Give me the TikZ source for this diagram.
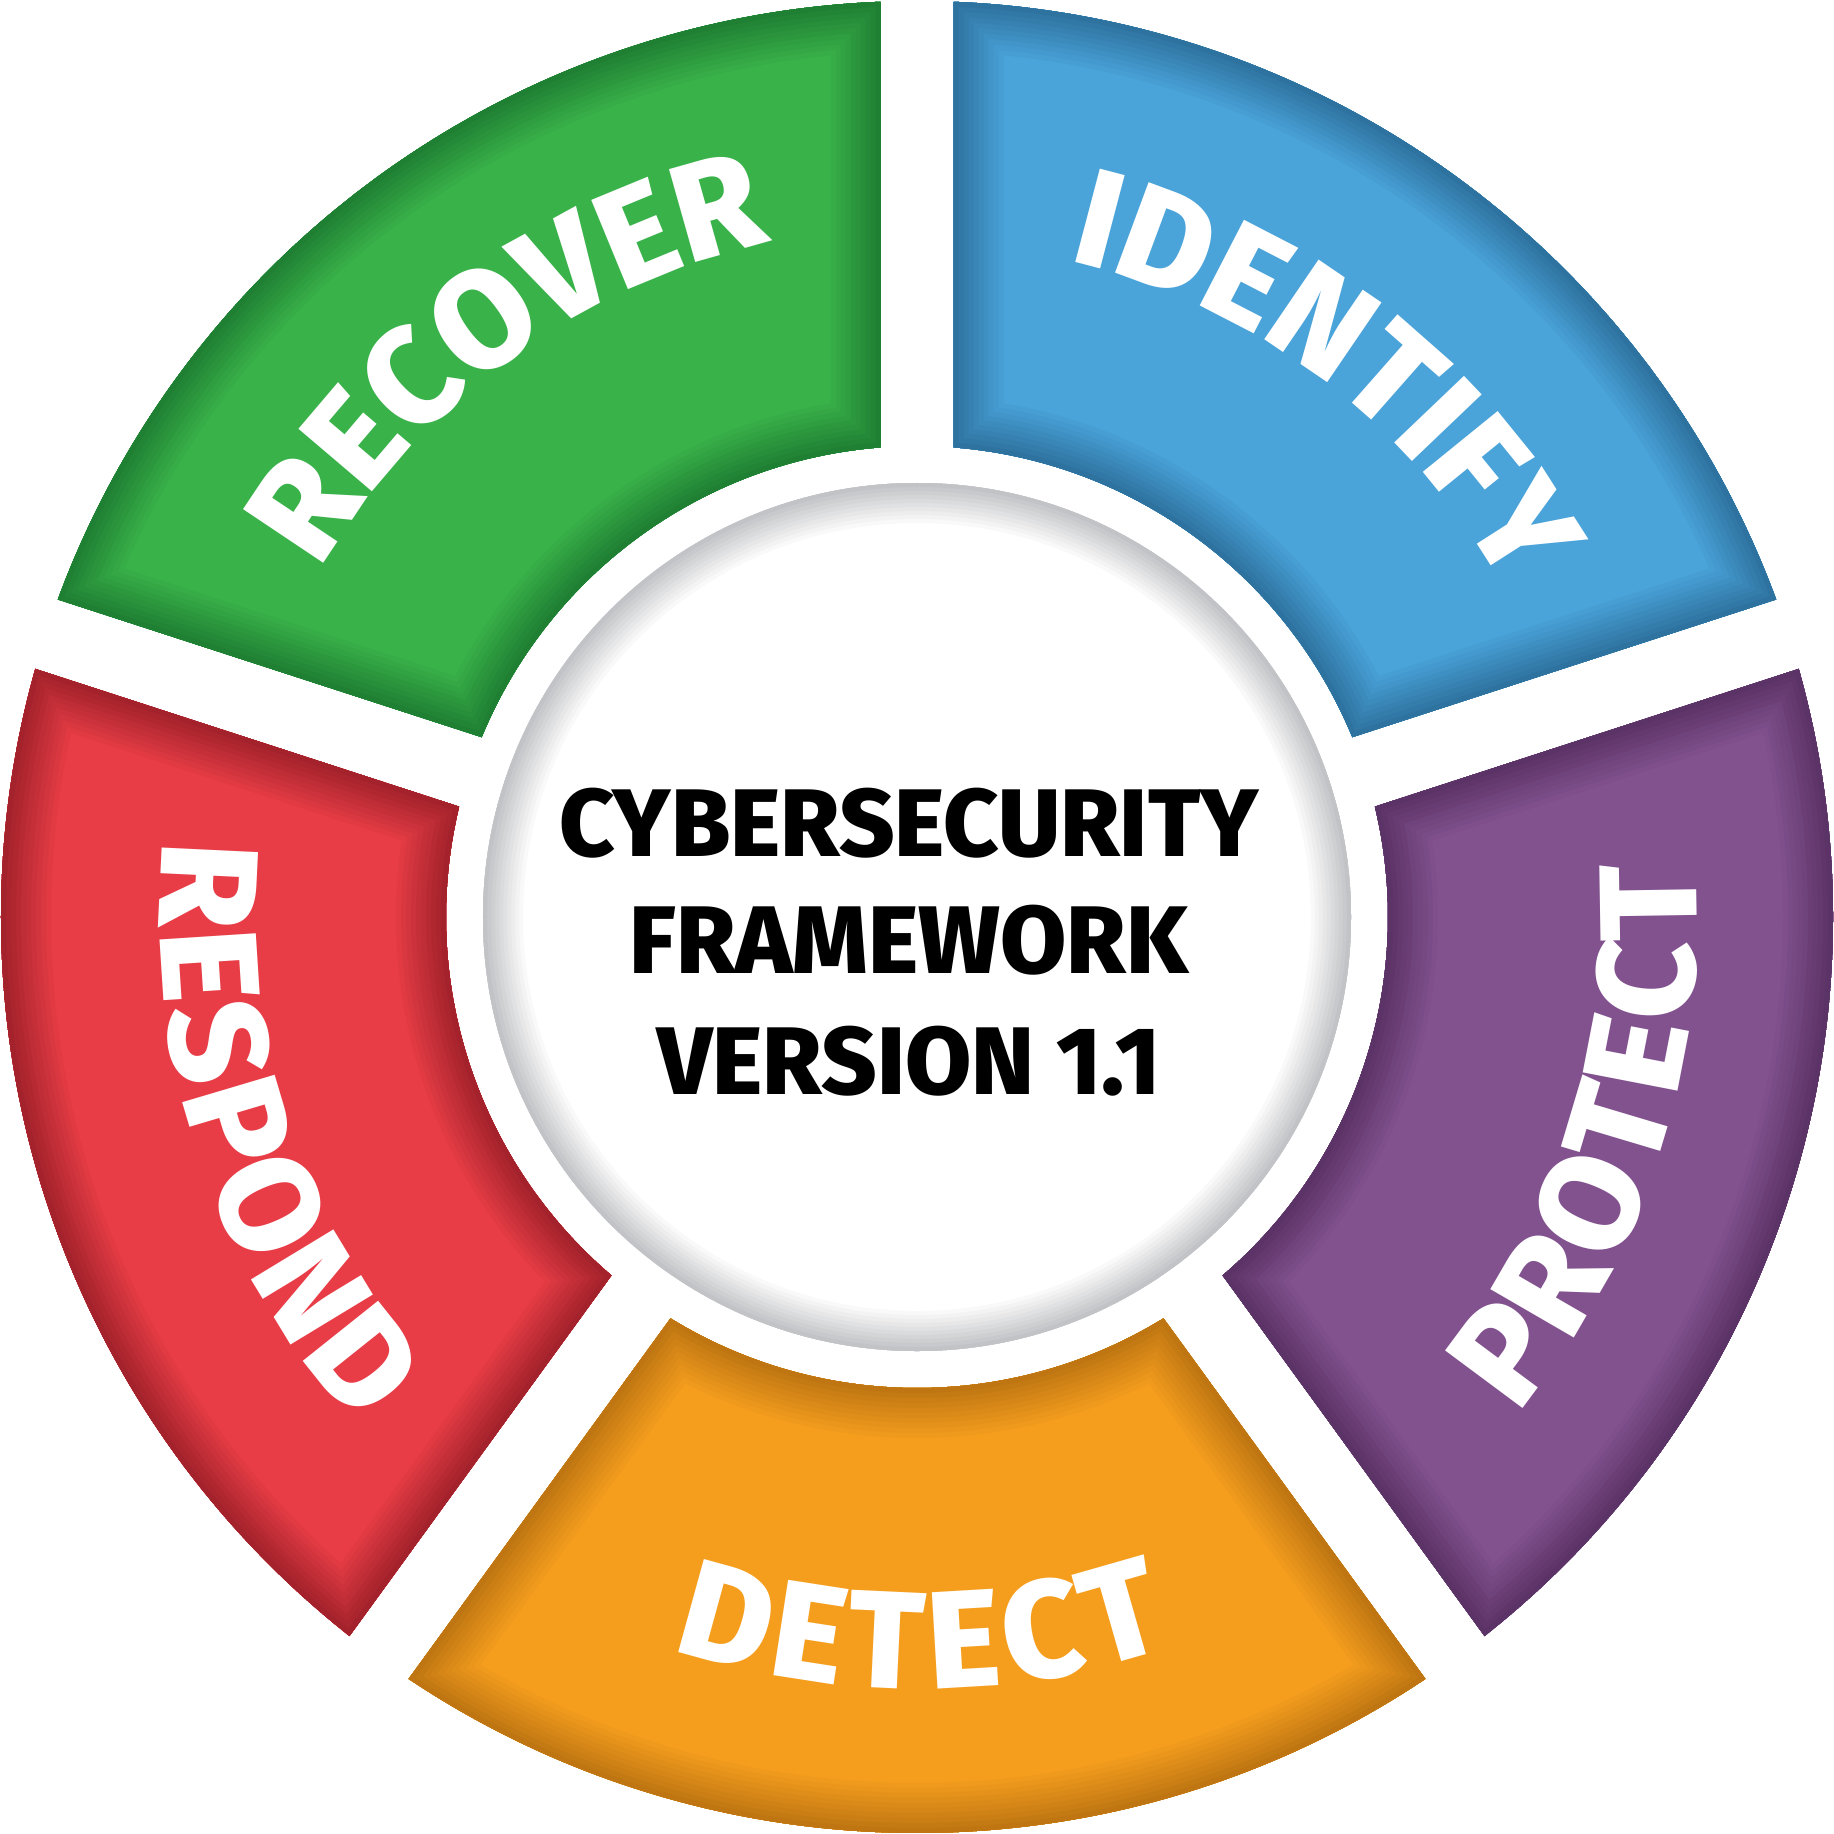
\documentclass[tikz,border=0pt]{standalone}
\usepackage{fontspec}
\setmainfont{Fira Sans}
\newfontfamily\heavyfont{Fira Sans}[UprightFont=* ExtraBold]
\usetikzlibrary{decorations.text}
\definecolor{gbase}{HTML}{3AB24A}\definecolor{gdark}{HTML}{1F7F33}
\definecolor{bbase}{HTML}{4AA3D9}\definecolor{bdark}{HTML}{2E73A0}
\definecolor{pbase}{HTML}{82528F}\definecolor{pdark}{HTML}{5C3366}
\definecolor{obase}{HTML}{F59E1E}\definecolor{odark}{HTML}{BF7612}
\definecolor{rbase}{HTML}{E83D46}\definecolor{rdark}{HTML}{A3222B}
\definecolor{ringgray}{HTML}{C2C3C6}
\newcommand\segfont{\heavyfont\fontsize{39.5}{40}\selectfont}
\newcommand\hubfont{\heavyfont\fontsize{27.3}{33}\selectfont}
\tikzset{
  segshape/.style={insert path={({#1+33.716}:9.16) arc[start angle={#1+33.716}, end angle={#1-33.716}, radius=9.16] -- ({#1-31.555}:4.71) arc[start angle={#1-31.555}, end angle={#1+31.555}, radius=4.71] -- cycle}},
  segtext/.style 2 args={decorate, decoration={text along path, text={|\segfont\kern#2|#1}, text align=center, text color=white}},
  hubtext/.style={font=\hubfont, anchor=base, inner sep=0pt, text=black}
}
\newcommand\drawseg[3]{%
  \fill[#2, segshape=#1];
  \begin{scope}
    \clip[segshape=#1];
    \foreach \k in {1,...,10}{
      \pgfmathsetmacro\lw{(11-\k)*0.1}
      \draw[line width=\lw cm, color=#3!\k0!#2, segshape=#1];
    }
  \end{scope}}
\begin{document}
\begin{tikzpicture}
\useasboundingbox[fill=white] (-9.17,-9.16) rectangle (9.17,9.17);
% segments
\drawseg{126}{gbase}{gdark}
\drawseg{54}{bbase}{bdark}
\drawseg{-18}{pbase}{pdark}
\drawseg{-90}{obase}{odark}
\drawseg{-162}{rbase}{rdark}
% hub disk
\fill[white] (0,0) circle[radius=4.34];
\begin{scope}
  \clip (0,0) circle[radius=4.34];
  \foreach \k in {1,...,10}{
    \pgfmathsetmacro\lw{(11-\k)*0.08}
    \draw[line width=\lw cm, color=ringgray!\k0!white] (0,0) circle[radius=4.34];
  }
\end{scope}
% labels
\path[segtext={RECOVER}{0pt}] (166:6.9) arc[start angle=166, end angle=86, radius=6.9];
\path[segtext={IDENTIFY}{0pt}] (93:6.73) arc[start angle=93, end angle=13, radius=6.73];
\path[segtext={PROTECT}{1pt}] (-58:7.8) arc[start angle=-58, end angle=22, radius=7.8];
\path[segtext={DETECT}{2.2pt}] (-130:7.72) arc[start angle=-130, end angle=-50, radius=7.72];
\path[segtext={RESPOND}{1.6pt}] (158:7.57) arc[start angle=158, end angle=238, radius=7.57];
% hub text
\node[hubtext] (t1) at (-0.08,0.61) {CYBERSECURITY};
\node[hubtext] (t2) at (-0.08,-0.56) {FRAMEWORK};
\node[hubtext] (t3) at (-0.08,-1.77) {VERSION 1.1};
\end{tikzpicture}
\end{document}
